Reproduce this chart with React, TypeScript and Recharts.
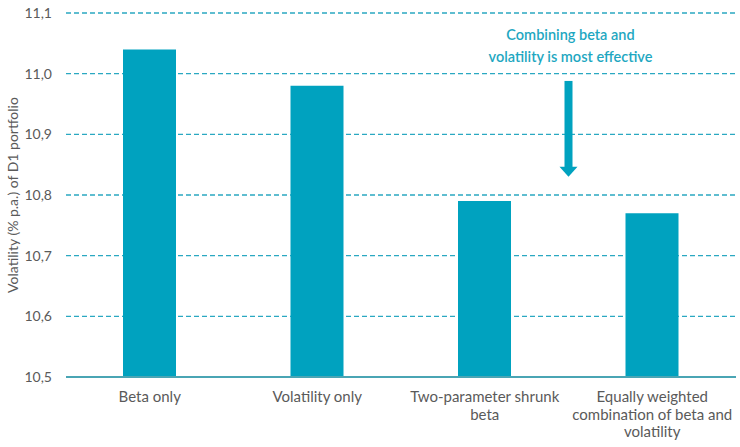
import { BarChart, Bar, XAxis, YAxis, CartesianGrid } from "recharts";

const categories = [
  "Beta only",
  "Volatility only",
  "Two-parameter shrunk\nbeta",
  "Equally weighted\ncombination of beta and\nvolatility",
];
const volatility = [11.04, 10.98, 10.79, 10.77];
const yTicks = [10.5, 10.6, 10.7, 10.8, 10.9, 11.0, 11.1];
const annotationLines = ["Combining beta and", "volatility is most effective"];
// arrow runs from / to these y values
const arrowFrom = 10.988;
const arrowTo = 10.83;

const W = 740;
const H = 447;
const M = { top: 13, right: 4, left: 0, bottom: 0 };
const Y_W = 66;
const X_H = 70;
const TEAL = "#00a2bf";
const TEXT_TEAL = "#1ea7c1";
const GREY = "#5a5a5a";
const FONT = "Lato, 'Open Sans', sans-serif";

const data = categories.map((name, i) => ({ name, value: volatility[i] }));

const plotLeft = M.left + Y_W;
const plotW = W - plotLeft - M.right;
const plotTop = M.top;
const plotH = H - M.top - M.bottom - X_H;
const yMin = yTicks[0];
const yMax = yTicks[yTicks.length - 1];
const yPx = (v: number) => plotTop + ((yMax - v) / (yMax - yMin)) * plotH;

function XTick({ x, y, payload }: any) {
  const lines = String(payload.value).split("\n");
  return (
    <text x={x} y={y} textAnchor="middle" fill={GREY} fontSize={15} fontFamily={FONT}>
      {lines.map((l, i) => (
        <tspan key={i} x={x} dy={i === 0 ? 17 : 17.5}>
          {l}
        </tspan>
      ))}
    </text>
  );
}

export default function App() {
  const ax = plotLeft + (plotW * 3) / 4;
  const y0 = yPx(arrowFrom);
  const y1 = yPx(arrowTo);
  return (
    <div style={{ position: "absolute", left: 0, top: 0, width: W, height: H, background: "#fff" }}>
      <BarChart width={W} height={H} data={data} margin={M}>
        <CartesianGrid vertical={false} stroke="#2aa8c1" strokeDasharray="5 3" strokeWidth={1.3} />
        <XAxis
          dataKey="name"
          height={X_H}
          interval={0}
          tickLine={false}
          axisLine={{ stroke: "#4aa5b4", strokeWidth: 2 }}
          tick={<XTick />}
        />
        <YAxis
          domain={[yMin, yMax]}
          ticks={yTicks}
          width={Y_W}
          axisLine={false}
          tickLine={false}
          tickMargin={8}
          tickFormatter={(v: number) => v.toFixed(1).replace(".", ",")}
          tick={{ fontSize: 14, fill: GREY, fontFamily: FONT }}
          label={{
            content: () => (
              <text
                x={12}
                y={plotTop + plotH / 2}
                transform={`rotate(-90 12 ${plotTop + plotH / 2})`}
                textAnchor="middle"
                dominantBaseline="central"
                fontSize={14}
                fill={GREY}
                fontFamily={FONT}
              >
                Volatility (% p.a.) of D1 portfolio
              </text>
            ),
          }}
        />
        <Bar dataKey="value" fill={TEAL} barSize={53} isAnimationActive={false} />
      </BarChart>
      <svg width={W} height={H} style={{ position: "absolute", left: 0, top: 0, pointerEvents: "none" }}>
        {annotationLines.map((l, i) => (
          <text
            key={i}
            x={ax + 2}
            y={40 + i * 22}
            textAnchor="middle"
            fontSize={14.5}
            fontWeight={600}
            fill={TEXT_TEAL}
            fontFamily={FONT}
          >
            {l}
          </text>
        ))}
        <rect x={ax - 4} y={y0} width={8} height={y1 - y0 - 9} fill={TEAL} />
        <polygon points={`${ax - 9},${y1 - 10} ${ax + 9},${y1 - 10} ${ax},${y1}`} fill={TEAL} />
      </svg>
    </div>
  );
}
